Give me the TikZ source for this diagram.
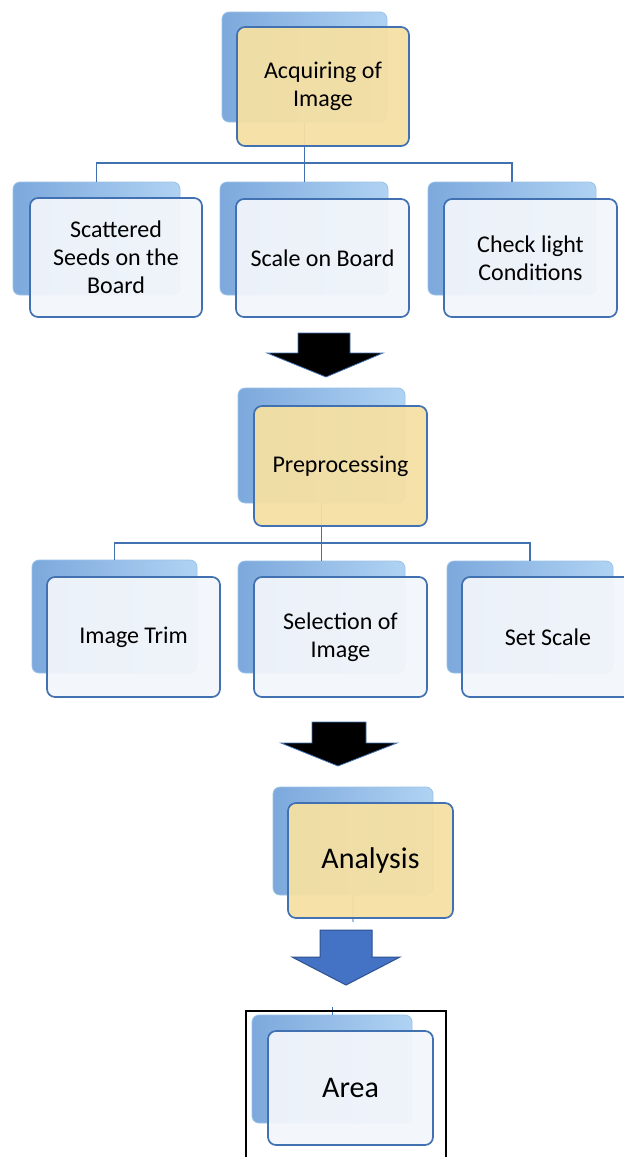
\documentclass[tikz,border=0pt]{standalone}
\usepackage{fontspec}
\setmainfont{Carlito}
\definecolor{lineblue}{RGB}{65,113,176}
\definecolor{frontwhite}{RGB}{243,246,251}
\definecolor{frontyel}{RGB}{246,224,163}
\definecolor{backL}{RGB}{124,168,220}
\definecolor{backR}{RGB}{176,211,243}
\definecolor{backedge}{RGB}{155,194,232}
\definecolor{arrowblue}{RGB}{68,114,196}
\definecolor{arrowedge}{RGB}{47,82,143}
\tikzset{
  backbox/.style={rounded corners=7pt, left color=backL, right color=backR, draw=backedge, line width=0.8pt, inner sep=0pt},
  frontbox/.style={rounded corners=8pt, draw=lineblue, line width=1.7pt, fill=frontwhite, fill opacity=0.94, draw opacity=1, text opacity=1, inner sep=0pt, align=center, font=\fontsize{24}{28}\selectfont},
  yelbox/.style={frontbox, fill=frontyel},
  bigtext/.style={font=\fontsize{30}{34}\selectfont},
  conn/.style={draw=lineblue, line width=1.8pt},
  blkarrow/.style={fill=black, draw=lineblue, line width=0.8pt, line join=miter},
  bluearrow/.style={fill=arrowblue, draw=arrowedge, line width=1pt, line join=miter},
}
\newcommand\boxat[7]{\node[#6, minimum width={#4-#2}, minimum height={#5-#3}] (#1) at ({(#2+#4)/2},{(#3+#5)/2}) {#7};}
\begin{document}
\begin{tikzpicture}[x=1pt,y=-1pt]
\fill[white] (0,0) rectangle (624,1157);
\useasboundingbox (0,0) rectangle (624,1157);
% back boxes
\boxat{A0}{222}{12}{387}{122}{backbox}{}
\boxat{S1b}{13}{182}{180}{295}{backbox}{}
\boxat{S2b}{220}{182}{388}{295}{backbox}{}
\boxat{S3b}{428}{182}{596}{295}{backbox}{}
\boxat{P0}{238}{388}{405}{503}{backbox}{}
\boxat{T1b}{32}{560}{197}{673}{backbox}{}
\boxat{T2b}{238}{561}{405}{673}{backbox}{}
\boxat{T3b}{447}{561}{613}{673}{backbox}{}
\boxat{An0}{273}{787}{433}{895}{backbox}{}
\boxat{Ar0}{252}{1015}{412}{1123}{backbox}{}
% connectors
\coordinate (busA) at (0,163);
\coordinate (busP) at (0,543);
\draw[conn] (A0.south) -- (A0.south |- S2b.north);
\draw[conn] (S1b.north) -- (S1b.north |- busA) -- (S3b.north |- busA) -- (S3b.north);
\draw[conn] (P0.south) -- (P0.south |- T2b.north);
\draw[conn] (T1b.north) -- (T1b.north |- busP) -- (T3b.north |- busP) -- (T3b.north);
\coordinate (anEnd) at (353,922);
\draw[conn, line width=1.2pt, lineblue!45] (An0.south) -- (anEnd |- An0.south) -- (anEnd);
\coordinate (arTop) at (332,1007);
\draw[conn, line width=1pt] (Ar0.north) -- (Ar0.north |- arTop);
% front boxes
\boxat{A}{237}{27}{409}{146}{yelbox}{Acquiring of\\Image}
\boxat{S1}{30}{198}{202}{317}{frontbox}{Scattered\\Seeds on the\\Board}
\boxat{S2}{236}{199}{409}{317}{frontbox}{Scale on Board}
\boxat{S3}{444}{199}{617}{317}{frontbox}{Check light\\Conditions}
\boxat{P}{254}{406}{427}{526}{yelbox}{Preprocessing}
\boxat{T1}{47}{577}{220}{697}{frontbox}{Image Trim}
\boxat{T2}{254}{577}{427}{697}{frontbox}{Selection of\\Image}
\boxat{T3}{462}{577}{634}{697}{frontbox}{Set Scale}
\boxat{An}{288}{803}{453}{918}{yelbox,bigtext}{Analysis}
\boxat{Ar}{268}{1031}{433}{1145}{frontbox,bigtext}{Area}
% block arrows
\draw[blkarrow] (298,333) -- (350,333) -- (350,353) -- (383,353) -- (326,377) -- (267,353) -- (298,353) -- cycle;
\draw[blkarrow] (312,722) -- (366,722) -- (366,743) -- (397,743) -- (338,766) -- (281,743) -- (312,743) -- cycle;
\draw[bluearrow] (320,930) -- (372,930) -- (372,957) -- (400,957) -- (346,985) -- (292,957) -- (320,957) -- cycle;
% frame around Area
\draw[black, line width=2pt] (246,1170) -- (246,1011) -- (446,1011) -- (446,1170);
\end{tikzpicture}
\end{document}
